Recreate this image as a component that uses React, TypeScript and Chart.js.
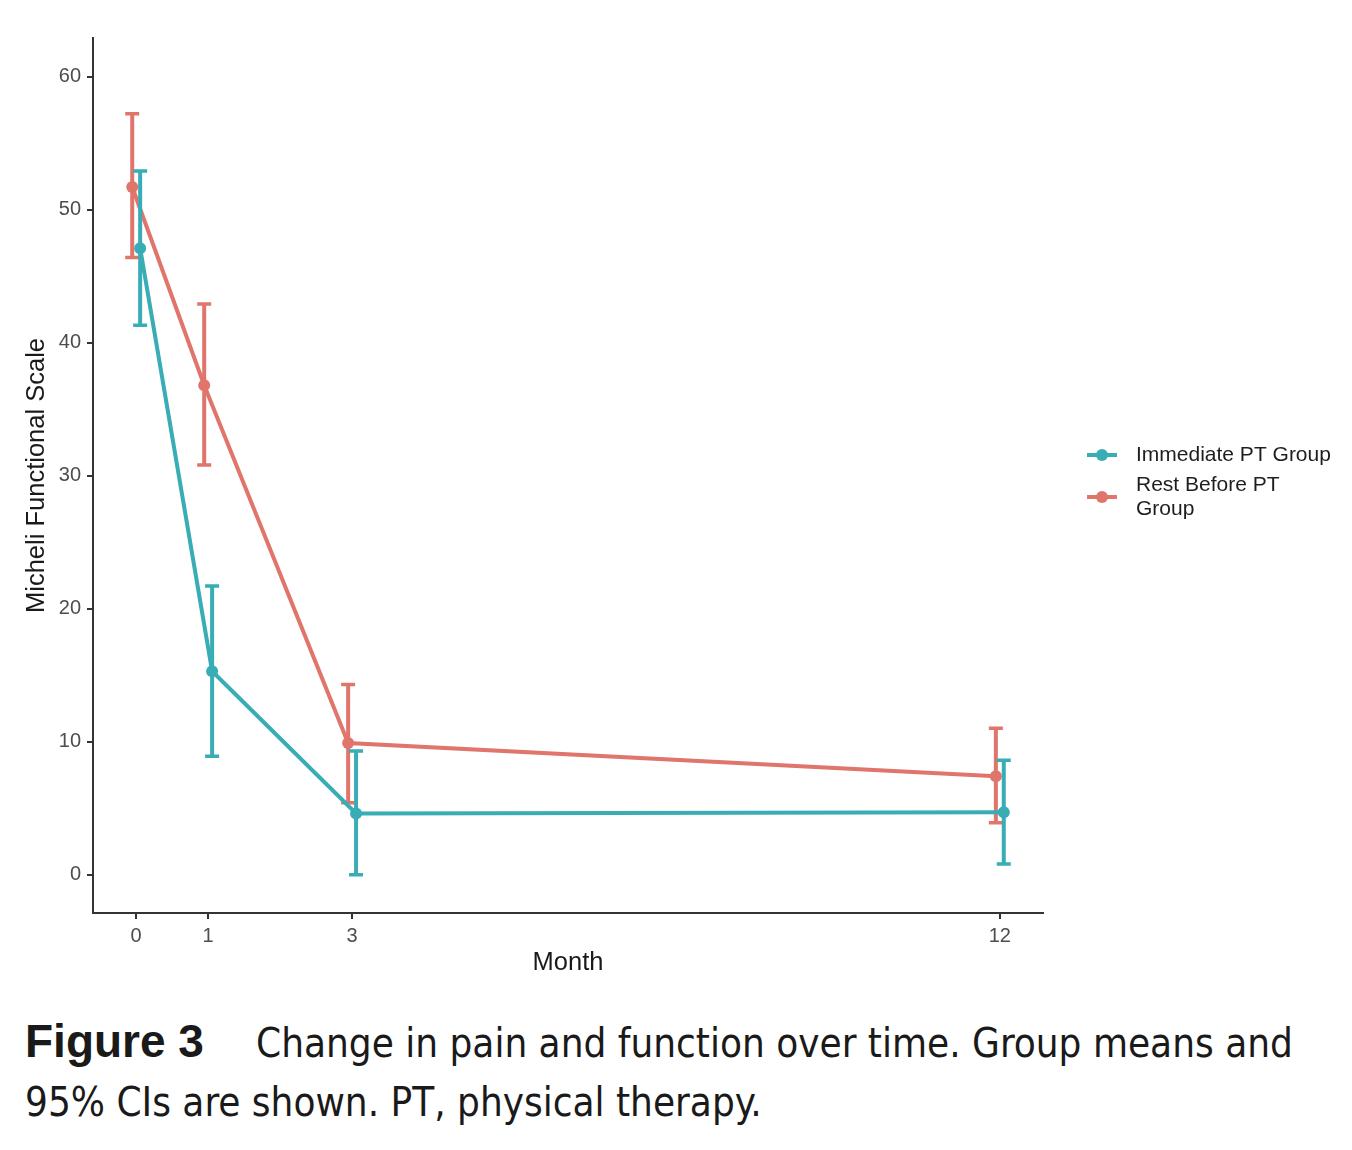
import { useEffect, useRef } from "react";
import { Chart, registerables } from "chart.js";

Chart.register(...registerables);

// Follow-up months and y-axis ticks
const months = [0, 1, 3, 12];
const monthTicks = [0, 1, 3, 12];
const scoreTicks = [0, 10, 20, 30, 40, 50, 60];

// Group names (legend wraps the second one over two lines)
const seriesNames = ["Immediate PT Group", "Rest Before PT Group"];
const legendLines = [["Immediate PT Group"], ["Rest Before PT", "Group"]];

// Immediate PT group: means and 95% CI bounds
const immediateMean = [47.1, 15.3, 4.6, 4.7];
const immediateLow = [41.3, 8.9, 0.0, 0.8];
const immediateHigh = [52.9, 21.7, 9.3, 8.6];

// Rest before PT group: means and 95% CI bounds
const restMean = [51.7, 36.8, 9.9, 7.4];
const restLow = [46.4, 30.8, 5.4, 3.9];
const restHigh = [57.2, 42.9, 14.3, 11.0];

const seriesColors = ["#38adb6", "#e0756b"];
// horizontal dodge so the two groups' bars don't sit on top of each other
const dodge = [0.055, -0.055];

const FONT = "'Liberation Sans', Arial, Helvetica, sans-serif";
const CAPTION_FONT = "'DejaVu Sans Condensed', 'DejaVu Sans', sans-serif";

const CANVAS_W = 1352;
const CANVAS_H = 990;

const errorBarPlugin = {
  id: "errorBars",
  afterDatasetDraw(chart: any, args: any) {
    const ds = chart.data.datasets[args.index];
    const { ctx } = chart;
    const x = chart.scales.x;
    const y = chart.scales.y;
    const half = 7;
    ctx.save();
    ctx.strokeStyle = ds.borderColor;
    ctx.lineCap = "butt";
    ds.data.forEach((d: any, i: number) => {
      const px = x.getPixelForValue(d.x);
      const lo = y.getPixelForValue(ds.errorLow[i]);
      const hi = y.getPixelForValue(ds.errorHigh[i]);
      ctx.lineWidth = 4;
      ctx.beginPath();
      ctx.moveTo(px, lo);
      ctx.lineTo(px, hi);
      ctx.stroke();
      ctx.lineWidth = 3.5;
      ctx.beginPath();
      ctx.moveTo(px - half, lo);
      ctx.lineTo(px + half, lo);
      ctx.moveTo(px - half, hi);
      ctx.lineTo(px + half, hi);
      ctx.stroke();
    });
    ctx.restore();
  },
};

const sideLegendPlugin = {
  id: "sideLegend",
  afterDraw(chart: any) {
    const { ctx } = chart;
    const keyLeft = 1087;
    const keyRight = 1117;
    const textX = 1136;
    const lineH = 24;
    let top = 443;
    ctx.save();
    ctx.beginPath();
    ctx.rect(0, 0, 1330, chart.height);
    ctx.clip();
    chart.data.datasets.forEach((ds: any, i: number) => {
      const lines = legendLines[i];
      const cy = top + (lines.length * lineH) / 2;
      ctx.strokeStyle = ds.borderColor;
      ctx.lineWidth = 4;
      ctx.beginPath();
      ctx.moveTo(keyLeft, cy);
      ctx.lineTo(keyRight, cy);
      ctx.stroke();
      ctx.fillStyle = ds.borderColor;
      ctx.beginPath();
      ctx.arc((keyLeft + keyRight) / 2, cy, 6, 0, Math.PI * 2);
      ctx.fill();
      ctx.fillStyle = "#1e1e1e";
      ctx.font = `21px ${FONT}`;
      ctx.textAlign = "left";
      ctx.textBaseline = "middle";
      lines.forEach((t: string, k: number) => {
        ctx.fillText(t, textX, top + lineH / 2 + k * lineH);
      });
      top += lines.length * lineH + 6;
    });
    ctx.restore();
  },
};

function buildSeries(s: number, mean: number[], low: number[], high: number[]) {
  return {
    label: seriesNames[s],
    data: months.map((m, i) => ({ x: m + dodge[s], y: mean[i] })),
    errorLow: low,
    errorHigh: high,
    borderColor: seriesColors[s],
    backgroundColor: seriesColors[s],
    borderWidth: 4,
    pointRadius: 6,
    pointBorderWidth: 0,
    pointBackgroundColor: seriesColors[s],
    tension: 0,
    fill: false,
  };
}

export default function App() {
  const canvasRef = useRef<HTMLCanvasElement | null>(null);

  useEffect(() => {
    if (!canvasRef.current) return;
    const chart = new Chart(canvasRef.current, {
      type: "line",
      data: {
        datasets: [
          buildSeries(0, immediateMean, immediateLow, immediateHigh),
          buildSeries(1, restMean, restLow, restHigh),
        ] as any,
      },
      options: {
        responsive: false,
        animation: false,
        devicePixelRatio: 1,
        layout: { padding: { top: 38, right: CANVAS_W - 1043, bottom: 0, left: 0 } },
        plugins: {
          legend: { display: false },
          tooltip: { enabled: false },
        },
        scales: {
          x: {
            type: "linear",
            min: -0.6,
            max: 12.6,
            afterBuildTicks: (s: any) => {
              s.ticks = monthTicks.map((v) => ({ value: v }));
            },
            afterFit: (s: any) => {
              s.height = CANVAS_H - 913;
              s.paddingLeft = 0;
              s.paddingRight = 0;
            },
            grid: {
              drawOnChartArea: false,
              drawTicks: true,
              tickLength: 6,
              color: "#333333",
              lineWidth: 2,
            },
            border: { display: true, color: "#333333", width: 2 },
            ticks: {
              color: "#4d4d4d",
              font: { family: FONT, size: 20 },
              padding: 5,
              maxRotation: 0,
              autoSkip: false,
              callback: (v: any) => String(v),
            },
            title: {
              display: true,
              text: "Month",
              color: "#1a1a1a",
              font: { family: FONT, size: 25.5 },
              padding: { top: 0, bottom: 12 },
            },
          },
          y: {
            type: "linear",
            min: -2.88,
            max: 62.9,
            afterBuildTicks: (s: any) => {
              s.ticks = scoreTicks.map((v) => ({ value: v }));
            },
            afterFit: (s: any) => {
              s.width = 93;
              s.paddingTop = 0;
              s.paddingBottom = 0;
            },
            grid: {
              drawOnChartArea: false,
              drawTicks: true,
              tickLength: 6,
              color: "#333333",
              lineWidth: 2,
            },
            border: { display: true, color: "#333333", width: 2 },
            ticks: {
              color: "#4d4d4d",
              font: { family: FONT, size: 20 },
              padding: 6,
              callback: (v: any) => String(v),
            },
            title: {
              display: true,
              text: "Micheli Functional Scale",
              color: "#1a1a1a",
              font: { family: FONT, size: 25.5 },
              padding: { top: 22, bottom: 0 },
            },
          },
        },
      } as any,
      plugins: [errorBarPlugin, sideLegendPlugin],
    });
    return () => chart.destroy();
  }, []);

  return (
    <div
      style={{
        position: "absolute",
        left: 0,
        top: 0,
        width: CANVAS_W,
        height: 1150,
        background: "#ffffff",
        overflow: "hidden",
        color: "#1a1a1a",
      }}
    >
      <canvas
        ref={canvasRef}
        width={CANVAS_W}
        height={CANVAS_H}
        style={{ position: "absolute", left: 0, top: 0, width: CANVAS_W, height: CANVAS_H }}
      />
      <div
        style={{
          position: "absolute",
          left: 25,
          top: 1018,
          fontFamily: FONT,
          fontWeight: "bold",
          fontSize: 46,
          lineHeight: "46px",
          whiteSpace: "nowrap",
        }}
      >
        Figure 3
      </div>
      <div
        style={{
          position: "absolute",
          left: 256,
          top: 1023,
          fontFamily: CAPTION_FONT,
          fontSize: 40,
          lineHeight: "40px",
          whiteSpace: "nowrap",
        }}
      >
        Change in pain and function over time. Group means and
      </div>
      <div
        style={{
          position: "absolute",
          left: 25,
          top: 1082,
          fontFamily: CAPTION_FONT,
          fontSize: 40,
          lineHeight: "40px",
          whiteSpace: "nowrap",
        }}
      >
        95% CIs are shown. PT, physical therapy.
      </div>
    </div>
  );
}
